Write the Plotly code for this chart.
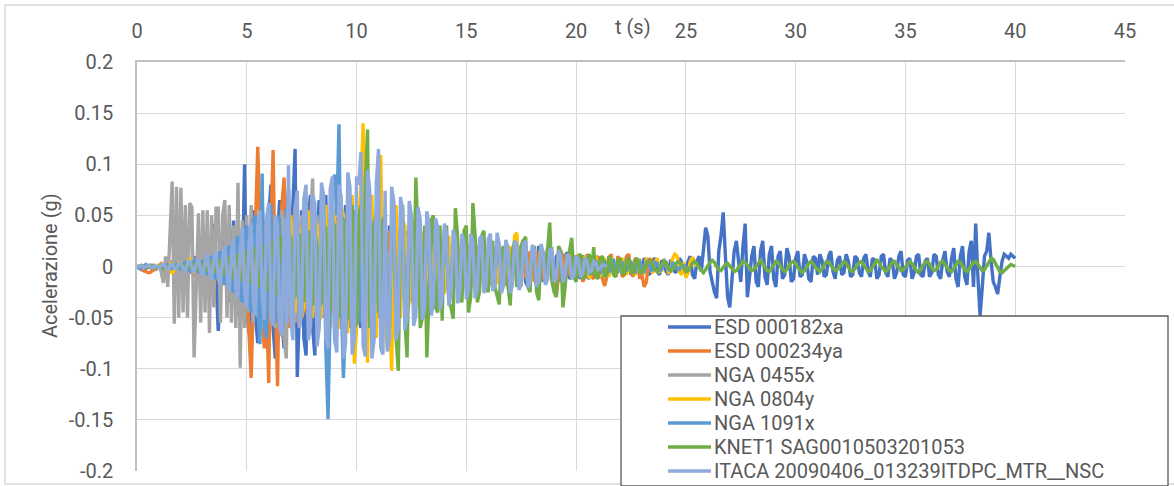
import numpy as np
import plotly.graph_objects as go

# sampling step of the digitised records (s); values in thousandths of g (mg)
DT = 0.1

ESD_000182xa = [
    0, -1, -3, -4, -2, 0, 1, -2, -3, -1,
    1, 2, -1, -4, -3, 2, 5, 1, -6, -4,
    3, 8, 2, -9, -5, 6, 10, -3, -12, -4,
    8, 15, -6, -20, 5, 42, -10, -63, -20, 25,
    30, -15, -35, 10, 45, -20, -48, 30, -10, 100,
    -40, -65, 35, 55, -50, -75, 40, 70, -45, -30,
    50, 80, -60, -90, 30, 65, -55, -80, 40, 75,
    -30, 60, 115, -108, -40, 55, -70, -87, 45, 70,
    -60, -87, 30, 65, -50, -40, 70, -55, -35, 60,
    -65, 45, 50, -55, -45, 60, 35, -60, -40, 55,
    40, -50, -60, 55, 30, -45, -55, 50, 25, -40,
    -50, 45, 35, -40, -30, 40, 25, -35, -45, 30,
    35, -30, -25, 35, 20, -30, -35, 25, 30, -20,
    -25, 30, 15, -25, -20, 25, 20, -20, -25, 15,
    20, -15, -25, 20, 15, -20, -10, 15, 20, -15,
    -20, 15, 10, -15, -20, 20, 15, -10, -15, 10,
    15, -12, -18, 15, 10, -15, -10, 12, 20, -10,
    -15, 18, 10, -12, -18, 20, 26, -15, -20, 10,
    15, -10, -18, 20, 12, -15, -10, 18, 15, -12,
    -15, 10, 12, -15, -8, 10, 14, -12, -10, 8,
    10, -8, -12, 10, 8, -10, -12, 8, 10, -8,
    -10, 8, 6, -10, -8, 10, 8, -6, -10, 5,
    8, -6, -8, 10, 6, -8, -5, 8, 6, -10,
    -6, 8, 5, -8, -6, 6, 8, -5, -8, 5,
    6, -5, -8, 5, 4, -6, -4, 8, 5, -6,
    -4, 5, 10, -8, -12, 5, 10, -5, 15, 38,
    30, -5, -15, -25, -31, 15, 30, 53, 10, -30,
    -40, -10, 15, 25, 5, -15, 20, 42, -30, -10,
    10, 20, -15, -20, 15, 25, -10, -18, 12, 20,
    -12, -20, 10, 15, -12, -8, 18, 10, -15, -12,
    8, 15, -10, -8, 12, 5, -12, -15, 10, 8,
    -8, 12, 6, -10, -8, 10, 15, -5, -12, 6,
    10, -8, -6, 12, 5, -10, -8, 10, 8, -6,
    -10, 8, 12, -5, -10, 8, 6, -12, -8, 10,
    12, -6, -10, 8, 5, -12, -6, 10, 15, -8,
    -10, 6, 8, -12, -6, 10, 12, -8, -10, 5,
    8, -10, -6, 12, 10, -8, -12, 6, 15, -5,
    -10, 8, 18, -12, -20, 10, 20, -10, -18, 15,
    25, -20, 42, -10, -48, -20, 10, 15, 33, 5,
    -15, -20, -27, -10, 5, 12, 10, 8, 12, 10,
    8,
]

ESD_000234ya = [
    0, -1, -2, -4, -5, -6, -6, -4, -2, 0,
    2, 3, 1, -3, -5, -2, 3, 5, 2, -3,
    -6, -2, 5, 8, 2, -6, -10, -4, 6, 10,
    4, -8, -14, -5, 10, 16, 5, -12, -20, -8,
    12, 25, 10, -18, -30, -10, 20, 35, 15, -48,
    -20, -60, -109, -30, 60, 117, 40, -50, -80, -40,
    -114, 40, 114, -30, -117, 20, 60, 87, -20, -60,
    -30, 40, 57, -40, -60, 25, 50, -35, -55, 30,
    50, -40, -30, 45, 35, -50, -40, 40, 30, -45,
    -35, 40, 50, -30, -45, 35, 40, -40, -30, 45,
    30, -40, -45, 35, 25, -35, -40, 30, 35, -30,
    -35, 30, 25, -35, -30, 35, 20, -25, -35, 25,
    30, -25, -20, 30, 25, -30, -20, 20, 30, -25,
    -20, 25, 15, -25, -20, 20, 25, -15, -20, 20,
    15, -20, -15, 20, 10, -15, -20, 15, 20, -10,
    -15, 20, 15, -20, -10, 15, 20, -10, -15, 12,
    15, -12, -20, 10, 15, -10, -15, 12, 10, -15,
    -10, 15, 12, -12, -15, 10, 18, -10, -12, 15,
    10, -15, -10, 12, 18, -10, -15, 10, 12, -8,
    -15, -28, -10, 15, 10, -12, -8, 12, 15, -10,
    -12, 10, 8, -15, -10, 12, 8, -10, -12, 8,
    10, -8, -12, -19, -10, 8, 12, -6, -10, 10,
    6, -10, -8, 10, 12, -6, -10, 8, 6, -12,
    -8, -20, -15, 5, 8, -5, -3,
]

NGA_0455x = [
    0, 0, 1, -1, 0, 1, -1, 0, 1, -2,
    2, -5, -16, 10, -20, 30, 83, -56, 78, -50,
    77, -45, 60, -50, 62, 58, -89, -20, 52, -55,
    55, -45, 55, -65, 50, -40, 57, 57, -55, 50,
    65, -50, 60, -55, 40, -60, 82, -99, 45, -60,
    50, -45, 60, -55, 40, -50, 55, -60, 45, -40,
    50, -55, 45, -60, 40, -50, 55, -70, -90, 60,
    -50, 45, -55, 60, -45, 50, -40, 55, -50, 40,
    86, -45, 50, -40, 45, -50, 40, -45, 35, -40,
    40, -35, 30, -40, 35, -30, 40, -35, 30, -25,
    30, -25, 20, -30, 25, -20, 15, -25, 20, -15,
    20, -15, 10, -20, 15, -10, 15, -12, 10, -15,
    12, -10, 8, -12, 10, -8, 6, -10, 8, -6,
    8, -6, 5, -8, 6, -5, 4, -6, 5, -4,
    4, -3, 2, -4, 3, -2, 1, -2, 1, 0,
    0,
]

NGA_0804y = [
    0, 0, 1, 0, -1, 0, 1, 0, -1, 0,
    1, 2, 0, -2, 0, 4, -7, -3, 2, 3,
    0, -3, 2, 5, 7, 2, -4, -2, 3, 1,
    -5, -8, 3, 10, 5, -10, -12, 6, 15, -5,
    -15, 10, 20, -8, -20, 12, 25, -10, -25, 15,
    30, -20, -30, 25, 35, -25, -35, 20, 40, -30,
    -40, 35, 30, -45, -35, 40, 45, -30, -50, 35,
    50, -40, -45, 45, 35, -50, -40, 40, 55, -45,
    -50, 45, 40, -55, -45, 50, 60, -50, -60, 45,
    55, -50, -61, 60, 50, -55, -65, 60, 70, -95,
    -60, 50, 80, 140, -40, -94, 30, 70, -50, -70,
    40, 109, -30, -60, -80, -40, -102, 30, 60, -40,
    -50, 45, 40, -45, -35, 40, 35, -40, -30, 35,
    30, -35, -25, 30, 25, -30, -20, 25, 30, -25,
    -25, 20, 30, -20, -25, 25, 20, -20, -25, 15,
    20, -15, -20, 25, 15, -20, -15, 20, 25, -15,
    -20, 15, 20, -18, -15, 20, 15, -20, -10, 15,
    20, -15, 30, 33, -10, -20, 15, 20, -15, -20,
    15, 20, -15, -10, 18, 12, -15, -12, 10, 15,
    -12, -15, 10, 12, -10, -8, 12, 10, -12, -10,
    8, 12, -10, -8, 10, 8, -12, -6, 8, 10,
    -8, -10, 6, 8, -6, -10, 8, 6, -8, -5,
    6, 8, -5, -8, 6, 5, -6, -8, 5, 6,
    -5, -6, 8, 5, -4, -6, 5, 8, -5, -4,
    6, 4, -6, -5, 8, 12, 10, -5, -8, 4,
    -11, -6, 5, 9, 4, 0,
]

NGA_1091x = [
    0, -2, -1, 1, 2, 0, -1, 1, 0, -1,
    0, 1, -2, 0, 2, 1, -2, -1, 2, 0,
    -3, 2, 4, -2, -4, 3, 5, -3, -6, 2,
    6, -5, -8, 8, 10, -10, -12, 10, 15, -12,
    -18, 15, 20, -20, -25, 22, 30, -28, -35, 30,
    40, -35, -45, 45, 50, -40, -76, 91, -60, -70,
    50, 60, -45, -55, 50, 45, -60, -50, 55, 60,
    -50, -60, 45, 55, -55, -45, 60, 50, -55, -60,
    50, 55, -60, -50, 70, 60, -80, -149, -40, 70,
    90, 50, 139, -30, -109, -60, 50, 70, -40, -65,
    50, 40, -55, -45, 50, 40, -50, -40, 45, 35,
    -45, -35, 40, 30, -40, -30, 35, 40, -35, -30,
    30, 35, -30, -25, 30, 25, -30, -25, 25, 30,
    -25, -20, 25, 20, -25, -20, 20, 25, -20, -15,
    20, 15, -20, -15, 20, 15, -18, -12, 15, 20,
    -15, -12, 15, 12, -15, -12, 15, 10, -12, -15,
    12, 10, -12, -10, 15, 12, -10, -12, 10, 12,
    -10, -12, 10, 12, -10, -8, 12, 10, -10, -12,
    8, 10, -10, -8, 12, 10, -8, -10, 8, 10,
    -8, -10, 8, 6, -10, -8, 8, 10, -6, -8,
    6, 8, -8, -6, 8, 6, -6, -8, 6, 5,
    -5, -6, 6, 5, -6, -5, 5, 6, -4, -5,
    5, 4, -5, -4, 5, 4, -4, -5, 4, 5,
    -4, -5, 4, 5, -4, -3, 4, 3, -4, -3,
    3, 4, -3, -4, 3, 2, -2, -3, 2, 1,
    0,
]

KNET1_SAG0010503201053 = [
    0, 0, 1, 0, -1, 0, 0, 1, 0, -1,
    0, 1, -1, -1, 0, 1, 1, 0, -1, 0,
    1, 2, 0, -2, -1, 3, 2, -1, -3, 1,
    3, -2, -4, 4, 5, -3, -6, 5, 6, -5,
    -8, 6, 10, -8, -12, 10, 12, -10, -14, 12,
    15, -17, -12, 15, 18, -15, -20, 18, 20, -18,
    -25, 20, 25, -22, -28, 25, 30, -25, -30, 28,
    30, -24, -30, 28, 32, -30, -35, 30, 35, -32,
    -38, 35, 18, -40, -35, 40, 38, -42, -40, 45,
    40, -45, -50, 50, 45, -55, -50, 55, 60, -60,
    -55, 50, 60, -45, 80, 134, -60, -50, 40, 55,
    -40, -50, 45, 50, -55, -60, 40, 55, -70, -102,
    30, 60, -50, -89, 20, 50, -40, 87, 30, -60,
    -50, 40, -89, -30, 45, 50, -40, -45, 40, -53,
    35, 40, -35, -40, -51, 57, 30, -30, -35, 35,
    40, -45, -30, 62, 30, -35, -25, 30, 35, -20,
    -25, 20, 25, -20, -30, -37, 15, 20, -15, -20,
    -38, 15, 25, -20, -15, 20, 25, 29, -20, -25,
    15, 20, -25, -33, 10, 15, -10, 20, 43, -15,
    -25, -30, 20, 15, -40, -20, 10, 15, 28, -10,
    -15, 10, 12, -12, -10, 8, 12, -8, 19, -10,
    -12, 8, 10, -10, -8, 10, 6, -8, -10, 6,
    8, -6, -8, 6, 8, -5, -6, 5, 8, -5,
    -6, -2, 3, 6, 4, 0, -3, -5, -2, 2,
    5, 3, -1, -4, -3, 1, 4, 5, 2, -2,
    -5, -4, 0, 3, 5, 3, -1, -4, -6, -3,
    1, 4, 6, 4, 0, -3, -4, -1, 2, 3,
    1, -2, -5, -4, -1, 2, 5, 4, 1, -2,
    -4, -3, 0, 4, 6, 3, -1, -4, -5, -2,
    2, 5, 4, 0, -3, -5, -3, 1, 4, 5,
    3, -1, -4, -6, -4, 0, 3, 5, 3, -1,
    -3, -5, -2, 2, 5, 4, 1, -2, -4, -3,
    0, 3, 5, 3, -1, -4, -5, -2, 2, 4,
    5, 2, -2, -5, -4, 0, 3, 6, 4, 0,
    -3, -5, -3, 1, 4, 5, 2, -2, -4, -3,
    0, 3, 5, 3, -1, -4, -6, -3, 1, 4,
    5, 2, -2, -4, -3, 0, 4, 5, 2, -1,
    -4, -5, -2, 2, 5, 4, 0, -3, -5, -3,
    1, 4, 5, 2, -2, -4, -3, 1, 5, 8,
    7, 3, -2, -5, -6, -4, -2, 0, 2, 1,
    0,
]

ITACA_20090406 = [
    0, 0, 1, -1, 0, 1, 0, -1, 1, 0,
    -1, 1, 2, -1, -2, 1, 2, -2, -1, 2,
    3, -2, -4, 3, 6, -1, -5, 2, 7, -4,
    -9, 4, 12, -6, -13, 8, 15, -10, -17, 9,
    20, -8, -24, 14, 27, -22, -30, 18, 38, -25,
    -40, 22, 43, -35, -48, 40, 55, -30, -52, 47,
    62, -45, -58, 50, 40, -62, -68, 48, -55, 99,
    -50, -72, 58, 74, -60, -45, 66, 80, -72, -58,
    70, 62, -78, -60, 82, 70, -70, -80, 76, 88,
    -72, -84, 80, 68, -90, -75, 92, 78, -86, -70,
    88, 80, 112, -78, -88, 94, 76, -90, -72, 82,
    115, -80, -86, 74, -83, -70, 78, 64, -72, -60,
    68, 55, -62, -50, 64, 50, -58, -48, 58, 46,
    -52, -40, 54, 42, -48, -36, 47, 38, -42, -30,
    42, 32, -38, -28, 36, 27, -36, -26, 32, 22,
    -32, -22, 32, 24, -31, -22, 27, 30, -26, -18,
    27, 32, -24, -18, 33, 22, -26, -18, 26, 18,
    -26, -18, 25, 22, -23, -17, 22, 25, -21, -16,
    21, 16, -20, -14, 22, 14, -18, -13, 16, 17,
    -15, -11, 16, 10, -15, -9, 12, 9, -12, -9,
    10, 7, -10, -7, 8, 5, -6, -4, 5, 3,
    -3, -2, 2, 1, 0,
]

SERIES = [
    ("ESD 000182xa", ESD_000182xa, "#4472C4"),
    ("ESD 000234ya", ESD_000234ya, "#ED7D31"),
    ("NGA 0455x", NGA_0455x, "#A5A5A5"),
    ("NGA 0804y", NGA_0804y, "#FFC000"),
    ("NGA 1091x", NGA_1091x, "#5B9BD5"),
    ("KNET1 SAG0010503201053", KNET1_SAG0010503201053, "#70AD47"),
    ("ITACA 20090406_013239ITDPC_MTR__NSC", ITACA_20090406, "#8FAADC"),
]

X_TICKS = [0, 5, 10, 15, 20, 25, 30, 35, 40, 45]
Y_TICKS = [0.2, 0.15, 0.1, 0.05, 0, -0.05, -0.1, -0.15, -0.2]
Y_TICKTEXT = ["0.2", "0.15", "0.1", "0.05", "0", "-0.05", "-0.1", "-0.15", "-0.2"]

W, H = 1174, 486
L, R, T, B = 137, 1125, 62, 471   # plot area in pixels
FONT = "Roboto"
TXT = "#595959"
FS = 20


def px(x):
    return (x - L) / (R - L)


def py(y):
    return (B - y) / (B - T)


fig = go.Figure()
for name, vals, color in SERIES:
    a = np.array(vals, dtype=float) / 1000.0
    t = np.round(np.arange(len(a)) * DT, 3)
    fig.add_trace(go.Scatter(x=t, y=a, mode="lines", name=name,
                             line=dict(color=color, width=3.4)))

shapes = [
    dict(type="rect", xref="paper", yref="paper",
         x0=px(5), x1=px(1190), y0=py(484), y1=py(5),
         line=dict(color="#D9D9D9", width=1.5), fillcolor="rgba(0,0,0,0)",
         layer="below"),
    dict(type="rect", xref="paper", yref="paper",
         x0=px(621), x1=px(1168), y0=py(486), y1=py(316),
         line=dict(color="#595959", width=1.3), fillcolor="white",
         layer="above"),
]
annotations = [
    dict(text="t (s)", xref="paper", yref="paper", x=px(633), y=py(27),
         showarrow=False, xanchor="center", yanchor="middle",
         font=dict(family=FONT, size=FS, color=TXT)),
    dict(text="Acelerazione (g)", xref="paper", yref="paper", x=px(50), y=py(266),
         showarrow=False, textangle=-90, xanchor="center", yanchor="middle",
         font=dict(family=FONT, size=FS, color=TXT)),
]

# legend drawn inside its own framed box
ROW0, ROW_STEP = 327, 24
for i, (name, vals, color) in enumerate(SERIES):
    yc = ROW0 + i * ROW_STEP
    shapes.append(dict(type="line", xref="paper", yref="paper",
                       x0=px(668), x1=px(711), y0=py(yc), y1=py(yc),
                       line=dict(color=color, width=3.5), layer="above"))
    annotations.append(dict(text=name, xref="paper", yref="paper",
                            x=px(713), y=py(yc), xanchor="left", yanchor="middle",
                            showarrow=False, borderpad=0,
                            font=dict(family=FONT, size=FS, color=TXT)))

fig.update_layout(
    width=W, height=H, autosize=False,
    margin=dict(l=L, r=W - R, t=T, b=H - B, autoexpand=False),
    paper_bgcolor="white", plot_bgcolor="white",
    font=dict(family=FONT, color=TXT, size=FS),
    showlegend=False,
    xaxis=dict(range=[0, 45], side="top", tickvals=X_TICKS,
               showgrid=True, gridcolor="#D9D9D9", gridwidth=1.3,
               zeroline=False, showline=True, linecolor="#BFBFBF", linewidth=1.5,
               ticks="", ticklabelstandoff=14,
               tickfont=dict(family=FONT, size=FS, color=TXT)),
    yaxis=dict(range=[-0.2, 0.2], tickvals=Y_TICKS, ticktext=Y_TICKTEXT,
               showgrid=True, gridcolor="#D9D9D9", gridwidth=1.3,
               zeroline=False, showline=True, linecolor="#BFBFBF", linewidth=1.5,
               ticks="", ticklabelstandoff=18,
               tickfont=dict(family=FONT, size=FS, color=TXT)),
    shapes=shapes,
    annotations=annotations,
)

fig.write_html("out.html", config={"displayModeBar": False},
               post_script="document.body.style.margin='0px';")
